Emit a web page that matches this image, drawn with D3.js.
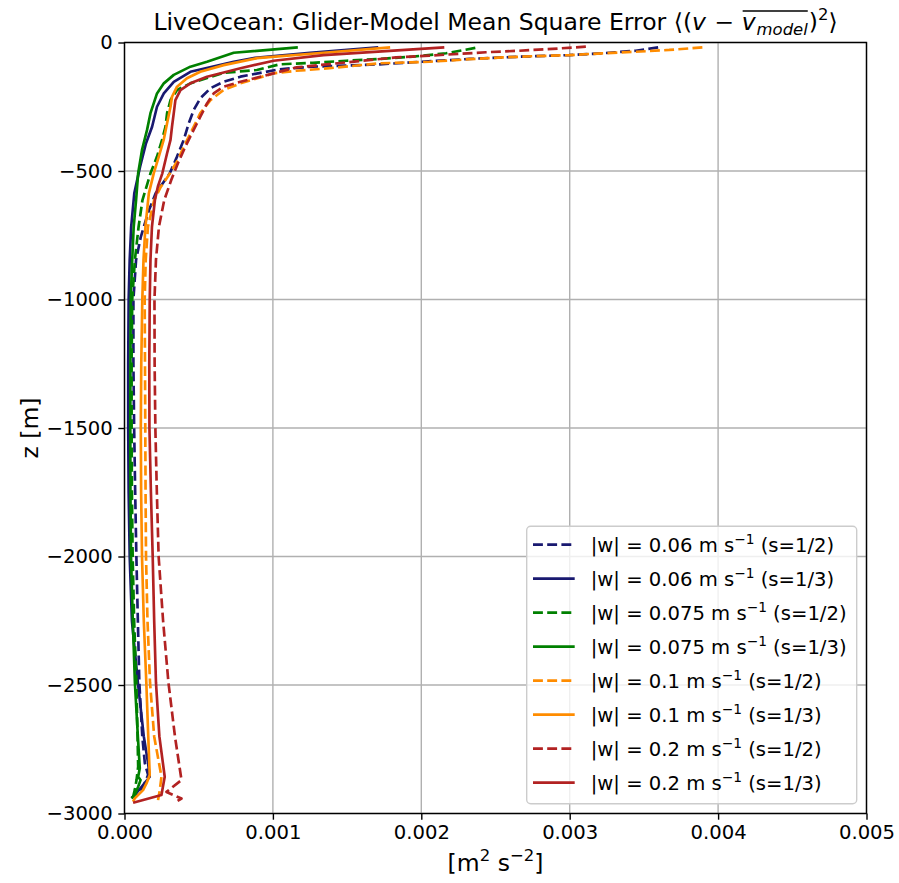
<!DOCTYPE html>
<html>
<head>
<meta charset="utf-8">
<script src="https://cdn.jsdelivr.net/npm/d3@7"></script>
<style>
  body { margin: 0; background: #fff; }
  svg { display: block; }
  text { font-family: "DejaVu Sans", sans-serif; fill: #000; }
</style>
</head>
<body>
<svg id="chart" width="899" height="883"></svg>
<script>
// Glider-model mean square error profiles, depth z [m] vs MSE [m^2 s^-2]

// |w| = 0.06 m/s, s = 1/2
const z_w060_s2 = [-19,-32,-42,-49,-53,-58,-64,-77,-85,-90,-94,-104,-133,-153,-178,-217,-263,-314,-379,-444,-509,-587,-652,-756,-846,-1000,-1250,-1500,-1750,-2000,-2250,-2490,-2700,-2804,-2850,-2896,-2928,-2940];
const mse_w060_s2 = [0.003596,0.003445,0.003221,0.002997,0.002773,0.002548,0.002324,0.001942,0.001718,0.001494,0.001269,0.001045,0.000781,0.000668,0.000579,0.000511,0.000466,0.000433,0.000399,0.000354,0.000305,0.00021,0.000165,0.00011,0.000078,0.00006,0.00006,0.000065,0.000072,0.00008,0.00009,0.0001,0.00012,0.000137,0.000159,0.000125,0.00008,0.00006];

// |w| = 0.06 m/s, s = 1/3
const z_w060_s3 = [-19,-40,-60,-75,-114,-153,-198,-250,-328,-392,-483,-587,-717,-846,-1000,-1250,-1500,-1750,-2000,-2250,-2490,-2700,-2805,-2857,-2889,-2928,-2940];
const mse_w060_s3 = [0.00171,0.00125,0.00088,0.000736,0.000444,0.000332,0.000265,0.000219,0.000186,0.000145,0.000105,0.000066,0.000045,0.000035,0.000028,0.000025,0.000025,0.000028,0.000035,0.00005,0.00009,0.00013,0.000159,0.00017,0.000125,0.00007,0.000047];

// |w| = 0.075 m/s, s = 1/2
const z_w075_s2 = [-21,-42,-55,-64,-71,-79,-85,-107,-118,-159,-185,-224,-275,-328,-379,-444,-509,-613,-717,-846,-1000,-1250,-1500,-1750,-2000,-2250,-2490,-2700,-2818,-2870,-2909,-2935];
const mse_w075_s2 = [0.002364,0.002167,0.001942,0.001718,0.001494,0.001269,0.001045,0.000892,0.000668,0.000444,0.000354,0.00031,0.000287,0.000276,0.000253,0.000219,0.000175,0.000121,0.000095,0.00007,0.000052,0.000048,0.000048,0.00005,0.000055,0.000065,0.00008,0.000088,0.000092,0.000081,0.000069,0.000058];

// |w| = 0.075 m/s, s = 1/3
const z_w075_s3 = [-19,-40,-75,-94,-126,-159,-198,-275,-340,-418,-509,-613,-717,-846,-1000,-1250,-1500,-1750,-2000,-2250,-2490,-2700,-2824,-2857,-2870,-2896,-2928,-2941];
const mse_w075_s3 = [0.001168,0.000736,0.000556,0.000444,0.000332,0.000265,0.000219,0.000175,0.000152,0.000118,0.000092,0.000078,0.000062,0.000052,0.000042,0.00004,0.000039,0.00004,0.000044,0.000056,0.00007,0.00009,0.000103,0.000092,0.000108,0.000092,0.00007,0.000047];

// |w| = 0.1 m/s, s = 1/2
const z_w100_s2 = [-19,-29,-36,-42,-49,-53,-58,-65,-75,-81,-100,-110,-120,-159,-185,-224,-275,-328,-405,-457,-515,-561,-613,-717,-846,-1000,-1250,-1500,-1750,-2000,-2250,-2490,-2700,-2857,-2909,-2948];
const mse_w100_s2 = [0.003894,0.00367,0.003445,0.003221,0.002997,0.002773,0.002548,0.002324,0.002054,0.001718,0.001382,0.001157,0.001005,0.000781,0.000668,0.000579,0.000511,0.000466,0.0004,0.00036,0.0003,0.000245,0.0002,0.000158,0.000143,0.000136,0.000138,0.00014,0.000142,0.000145,0.000155,0.000172,0.0002,0.000249,0.000238,0.000226];

// |w| = 0.1 m/s, s = 1/3
const z_w100_s3 = [-19,-40,-61,-88,-114,-139,-172,-211,-250,-314,-379,-444,-509,-587,-717,-846,-1000,-1250,-1500,-1750,-2000,-2250,-2490,-2700,-2850,-2883,-2909,-2941,-2954];
const mse_w100_s3 = [0.00179,0.001341,0.000892,0.000668,0.000511,0.000421,0.000354,0.00032,0.00031,0.000287,0.000264,0.000231,0.000197,0.000164,0.000141,0.000128,0.00012,0.000113,0.00011,0.000112,0.000118,0.00013,0.000147,0.00016,0.00017,0.000148,0.000125,0.000069,0.000058];

// |w| = 0.2 m/s, s = 1/2
const z_w200_s2 = [-16,-25,-32,-38,-51,-58,-71,-84,-97,-120,-153,-172,-198,-237,-289,-340,-405,-470,-535,-613,-717,-846,-1000,-1250,-1500,-1750,-2000,-2250,-2490,-2700,-2870,-2916,-2942,-2958];
const mse_w200_s2 = [0.003109,0.002884,0.00266,0.002436,0.002054,0.00183,0.001606,0.001382,0.001157,0.001005,0.000781,0.000668,0.000601,0.000556,0.000511,0.000466,0.00041,0.00036,0.000315,0.000268,0.000232,0.000212,0.000202,0.000203,0.000208,0.000218,0.00023,0.00026,0.000296,0.00034,0.000384,0.000283,0.000384,0.000338];

// |w| = 0.2 m/s, s = 1/3
const z_w200_s3 = [-19,-49,-71,-100,-133,-159,-185,-224,-275,-328,-379,-431,-509,-560,-613,-717,-846,-1000,-1250,-1500,-1750,-2000,-2250,-2490,-2700,-2857,-2928,-2958];
const mse_w200_s3 = [0.002155,0.001341,0.001005,0.000781,0.000556,0.000444,0.000377,0.000343,0.000332,0.00032,0.00031,0.000287,0.000255,0.000225,0.000205,0.000185,0.000175,0.00017,0.000167,0.000168,0.000178,0.00019,0.0002,0.000212,0.000235,0.000271,0.000249,0.000058];

// legend categories
const speeds = ["0.06", "0.06", "0.075", "0.075", "0.1", "0.1", "0.2", "0.2"];
const ratios = ["1/2", "1/3", "1/2", "1/3", "1/2", "1/3", "1/2", "1/3"];

// axis ticks
const xTicks = [0, 0.001, 0.002, 0.003, 0.004, 0.005];
const yTicks = [0, -500, -1000, -1500, -2000, -2500, -3000];

// styling
const colors = ["#191970", "#191970", "#008000", "#008000", "#ff8c00", "#ff8c00", "#b22222", "#b22222"];
const dashed = [true, false, true, false, true, false, true, false];

const depthSets = [z_w060_s2, z_w060_s3, z_w075_s2, z_w075_s3, z_w100_s2, z_w100_s3, z_w200_s2, z_w200_s3];
const valueSets = [mse_w060_s2, mse_w060_s3, mse_w075_s2, mse_w075_s3, mse_w100_s2, mse_w100_s3, mse_w200_s2, mse_w200_s3];

const series = depthSets.map((zs, i) => ({
  speed: speeds[i],
  ratio: ratios[i],
  color: colors[i],
  dashed: dashed[i],
  points: zs.map((z, j) => ({ z, v: valueSets[i][j] }))
}));

const svg = d3.select("#chart");
const plotL = 124.5, plotR = 866.5, plotT = 42.5, plotB = 813.5;
const lw = 2.67, thin = 1.4;
const tickFont = 19.6;

const x = d3.scaleLinear().domain([0, 0.005]).range([plotL, plotR]);
const y = d3.scaleLinear().domain([-3000, 0]).range([plotB, plotT]);

// grid
const grid = svg.append("g").attr("stroke", "#b0b0b0").attr("stroke-width", thin);
grid.selectAll("line.gx").data(xTicks).join("line").attr("class", "gx")
  .attr("x1", d => x(d)).attr("x2", d => x(d)).attr("y1", plotT).attr("y2", plotB);
grid.selectAll("line.gy").data(yTicks).join("line").attr("class", "gy")
  .attr("x1", plotL).attr("x2", plotR).attr("y1", d => y(d)).attr("y2", d => y(d));

// profiles
svg.append("defs").append("clipPath").attr("id", "plotclip")
  .append("rect").attr("x", plotL).attr("y", plotT).attr("width", plotR - plotL).attr("height", plotB - plotT);

const line = d3.line().x(d => x(d.v)).y(d => y(d.z));
svg.append("g").attr("clip-path", "url(#plotclip)")
  .selectAll("path").data(series).join("path")
  .attr("d", d => line(d.points))
  .attr("fill", "none")
  .attr("stroke", d => d.color)
  .attr("stroke-width", lw)
  .attr("stroke-linejoin", "round")
  .attr("stroke-dasharray", d => d.dashed ? "9.9,4.3" : null);

// axes
const xAxis = d3.axisBottom(x).tickValues(xTicks).tickFormat(d3.format(".3f")).tickSize(6.2).tickPadding(5.5);
const yAxis = d3.axisLeft(y).tickValues(yTicks).tickFormat(d3.format("d")).tickSize(6.2).tickPadding(5.5);

const gx = svg.append("g").attr("transform", `translate(0,${plotB})`).call(xAxis);
const gy = svg.append("g").attr("transform", `translate(${plotL},0)`).call(yAxis);
[gx, gy].forEach(g => {
  g.select(".domain").remove();
  g.selectAll(".tick line").attr("stroke", "#000").attr("stroke-width", thin);
  g.selectAll(".tick text").attr("font-size", tickFont).attr("font-family", "DejaVu Sans").attr("fill", "#000");
});

// frame
svg.append("rect").attr("x", plotL).attr("y", plotT).attr("width", plotR - plotL).attr("height", plotB - plotT)
  .attr("fill", "none").attr("stroke", "#000").attr("stroke-width", thin);

// axis labels
const labelSize = 23.5;
const xl = svg.append("text").attr("x", (plotL + plotR) / 2).attr("y", 871)
  .attr("text-anchor", "middle").attr("font-size", labelSize);
xl.append("tspan").text("[m");
xl.append("tspan").attr("font-size", 16.5).attr("dy", -10).text("2");
xl.append("tspan").attr("dy", 10).text(" s");
xl.append("tspan").attr("font-size", 16.5).attr("dy", -10).text("\u22122");
xl.append("tspan").attr("dy", 10).text("]");

svg.append("text").attr("transform", `translate(38,${(plotT + plotB) / 2}) rotate(-90)`)
  .attr("text-anchor", "middle").attr("font-size", labelSize).text("z [m]");

// title, laid out piece by piece so the overline can span v_model
const titleSize = 23.5;
const title = svg.append("g");
const pieces = [
  { t: "LiveOcean: Glider-Model Mean Square Error \u27E8(", size: titleSize, dy: 0, italic: false },
  { t: "v", size: titleSize, dy: 0, italic: true },
  { t: " \u2212 ", size: titleSize, dy: 0, italic: false },
  { t: "v", size: titleSize, dy: 0, italic: true, over: true },
  { t: "model", size: titleSize * 0.7, dy: 5, italic: true, over: true },
  { t: ")", size: titleSize, dy: 0, italic: false },
  { t: "2", size: titleSize * 0.7, dy: -10, italic: false },
  { t: "\u27E9", size: titleSize, dy: 0, italic: false }
];
const baseY = 30;
let cx = 0;
const placed = pieces.map(p => {
  const el = title.append("text").attr("x", cx).attr("y", baseY + p.dy)
    .attr("font-size", p.size).attr("font-style", p.italic ? "italic" : "normal")
    .style("white-space", "pre").text(p.t);
  const w = el.node().getComputedTextLength();
  const r = { el, x0: cx, x1: cx + w, over: p.over };
  cx += w + (p.italic ? 1 : 0);
  return r;
});
const ov = placed.filter(p => p.over);
title.append("line").attr("x1", ov[0].x0 + 1).attr("x2", ov[ov.length - 1].x1)
  .attr("y1", baseY - 19).attr("y2", baseY - 19).attr("stroke", "#000").attr("stroke-width", 1.3);
title.attr("transform", `translate(${(plotL + plotR) / 2 - cx / 2},0)`);

// legend
const fs = 19.6;
const rowH = 34;
const legW = 330, legH = 277.5;
const lx = plotR - 9.8 - legW, ly = plotB - 9.8 - legH;
const leg = svg.append("g").attr("transform", `translate(${lx},${ly})`);
leg.append("rect").attr("width", legW).attr("height", legH).attr("rx", 4)
  .attr("fill", "rgba(255,255,255,0.8)").attr("stroke", "#cccccc").attr("stroke-width", thin);
const rows = leg.selectAll("g.row").data(series).join("g").attr("class", "row")
  .attr("transform", (d, i) => `translate(0,${18.5 + i * rowH})`);
rows.append("line").attr("x1", 6.3).attr("x2", 48)
  .attr("stroke", d => d.color).attr("stroke-width", lw)
  .attr("stroke-dasharray", d => d.dashed ? "9.9,4.3" : null);
rows.each(function (d) {
  const t = d3.select(this).append("text").attr("x", 64).attr("y", 7).attr("font-size", fs);
  t.append("tspan").text(`|w| = ${d.speed} m s`);
  t.append("tspan").attr("font-size", fs * 0.7).attr("dy", -8).text("\u22121");
  t.append("tspan").attr("dy", 8).text(` (s=${d.ratio})`);
});
</script>
</body>
</html>
